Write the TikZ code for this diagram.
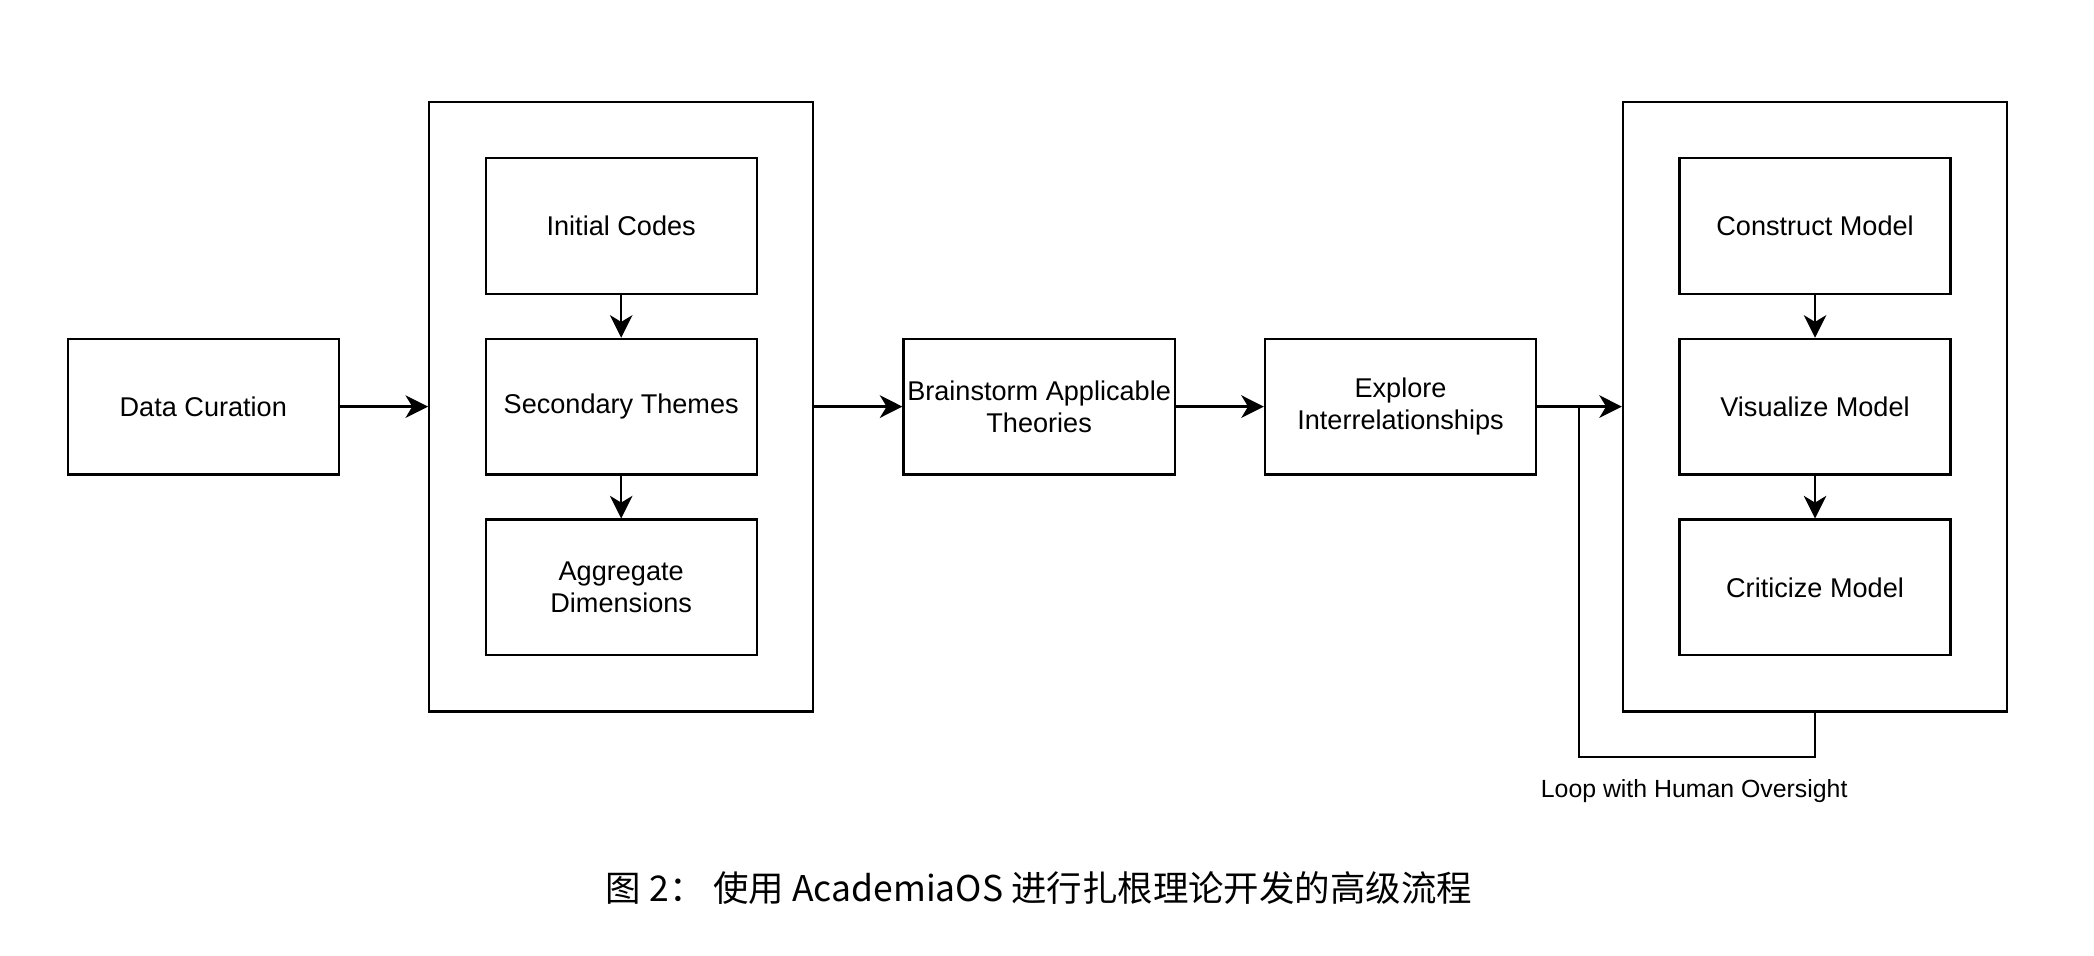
\documentclass[tikz,border=0pt]{standalone}
\usepackage{fontspec}
\setmainfont{Liberation Sans}
\newfontfamily\cjkfont{Noto Sans CJK SC}
\usepackage{tikz}
\usetikzlibrary{arrows.meta}

\begin{document}
\begin{tikzpicture}[x=1pt, y=-1pt,
    stage/.style={draw, line width=1pt, minimum width=120pt, minimum height=60pt, align=center, inner sep=1pt, font=\fontsize{12}{14.4}\selectfont},
    group/.style={draw, line width=1pt, minimum width=170pt, minimum height=270pt},
    flow/.style={line width=1pt, -{Stealth[length=10pt, width=10pt, inset=3pt]}},
    wire/.style={line width=1pt}]
    \useasboundingbox (0,0) rectangle (927,423);

    % Left stages
    \node[stage] (curation) at (90,180) {Data Curation};
    \node[group] (coding) at (275,180) {};
    \node[stage] (codes) at (275,100) {Initial Codes};
    \node[stage] (themes) at (275,180) {Secondary Themes};
    \node[stage] (dims) at (275,260) {Aggregate\\Dimensions};

    % Middle stages
    \node[stage] (theories) at (460,180) {Brainstorm Applicable\\Theories};
    \node[stage] (explore) at (620,180) {Explore\\Interrelationships};

    % Model loop
    \node[group] (modeling) at (803.5,180) {};
    \node[stage] (construct) at (803.5,100) {Construct Model};
    \node[stage] (visualize) at (803.5,180) {Visualize Model};
    \node[stage] (criticize) at (803.5,260) {Criticize Model};

    % Connections
    \draw[flow] (curation) -- (coding);
    \draw[flow] (codes) -- (themes);
    \draw[flow] (themes) -- (dims);
    \draw[flow] (coding) -- (theories);
    \draw[flow] (theories) -- (explore);
    \draw[flow] (explore) -- (modeling);
    \draw[flow] (construct) -- (visualize);
    \draw[flow] (visualize) -- (criticize);

    % Feedback loop
    \coordinate (loopturn) at (699,335);
    \coordinate (loopjoin) at (699,180);
    \draw[wire] (modeling.south) |- (loopturn) -- (loopjoin);
    \node[font=\fontsize{11}{13}\selectfont] (looplabel) at (750,350) {Loop with Human Oversight};

    % Caption
    \node[font=\cjkfont\fontsize{15.7}{19}\selectfont] (caption) at (460,393) {图 2：\hspace{4pt}使用 AcademiaOS 进行扎根理论开发的高级流程};

\end{tikzpicture}
\end{document}
